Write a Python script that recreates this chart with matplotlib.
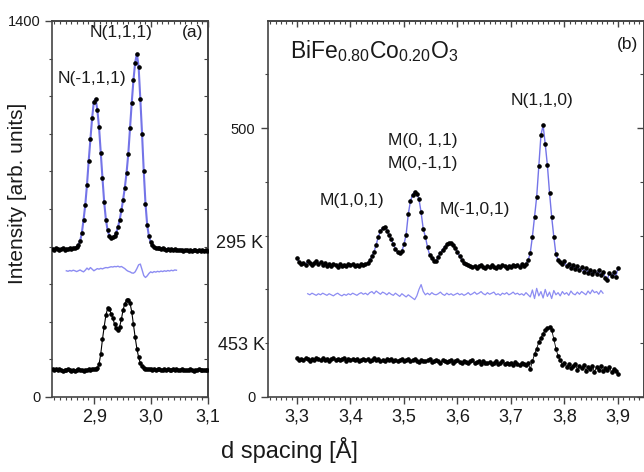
import numpy as np
import matplotlib
matplotlib.use("Agg")
import matplotlib.pyplot as plt
from matplotlib.ticker import MultipleLocator

plt.rcParams['font.family'] = ['Liberation Sans', 'DejaVu Sans']
plt.rcParams['mathtext.default'] = 'regular'

# ---- panel (a): N(-1,1,1) / N(1,1,1) region, d grid 2.827 .. 3.099 A
d_left = np.linspace(2.827, 3.099, 91)

i295_left = [552, 548, 553, 550, 547, 551, 554, 549, 552, 550, 553, 551, 554, 556,
             558, 565, 580, 610, 660, 715, 790, 880, 960, 1040,
             1100, 1110, 1070, 1005, 910, 815, 725, 660, 620, 600,
             592, 594, 600, 612, 632, 660, 695, 735, 780, 835,
             905, 1000, 1095, 1180, 1245, 1278, 1230, 1110, 980, 840,
             720, 640, 598, 577, 565, 559, 556, 555,
             553, 551, 554, 550, 548, 552, 549, 551, 547, 550,
             548, 546, 549, 547, 545, 548, 546, 544, 547, 545,
             548, 546, 544, 547, 545, 546, 544, 546, 545]

i453_left = [106, 101, 104, 99, 103, 100, 97, 102, 99, 104, 100, 98, 101, 97, 100,
             103, 99, 101, 98, 102, 100, 104, 101, 103, 106, 105,
             108, 122, 160, 215, 262, 305, 330, 328, 310, 293, 272, 257, 250, 262,
             290, 325, 348, 360, 362, 350, 318, 270, 222, 180, 148, 126, 114, 109,
             106, 104, 103, 105, 102, 104, 101, 103, 105, 102, 100, 103, 101, 104,
             102, 99, 103, 101, 104, 100, 102, 105, 101, 99, 102, 100, 103, 101,
             98, 102, 100, 103, 99, 101, 100, 102, 99]

# difference curve (obs - calc, shifted), on d_left[8:73]
diff_left = [470, 468, 471, 469, 472, 470, 467, 470, 473, 469,
             466, 472, 480, 474, 482, 476, 470, 474, 478, 476,
             479, 477, 480, 482, 481, 483, 485, 484, 486, 485,
             487, 484, 486, 482, 478, 472, 468, 466, 462, 461,
             466, 478, 492, 495, 474, 452, 445, 451, 460, 466,
             463, 467, 465, 468, 466, 469, 467, 470, 468, 471,
             469, 472, 470, 473, 472]

# ---- panel (b): magnetic M/N peaks, d grid 3.300 .. 3.900 A
d_right = np.linspace(3.300, 3.900, 151)

i295_right = [258, 251, 247, 250, 246, 252, 249, 245, 250, 253,
              248, 251, 246, 249, 244, 247, 243, 248, 245, 242,
              247, 244, 246, 243, 248, 245, 247, 243, 246, 244,
              248, 245, 247, 249, 254, 262, 270, 283, 298, 308,
              315, 316, 309, 301, 293, 284, 276, 269, 267, 271,
              284, 302, 340, 364, 376, 382, 378, 368, 343, 312,
              298, 278, 264, 258, 252, 253, 261, 267, 274, 279,
              284, 287, 286, 283, 277, 269, 262, 255, 250, 247,
              245, 243, 241, 244, 240, 243, 246, 242, 239, 244,
              241, 245, 242, 240, 244, 241, 245, 243, 240, 244,
              242, 246, 243, 245, 242, 247, 244, 248, 254, 268,
              298, 335, 372, 430, 487, 505, 470, 431, 380, 335,
              298, 265, 255, 251, 248, 252, 243, 247, 240, 245,
              238, 243, 236, 241, 233, 239, 231, 237, 229, 235,
              228, 236, 226, 233, 222, 218, 231, 225, 232, 224,
              240]

i453_right = [72, 68, 71, 69, 73, 70, 67, 71, 69, 72,
              70, 68, 72, 69, 71, 67, 70, 73, 69, 71,
              68, 70, 72, 67, 70, 69, 71, 68, 70, 66,
              69, 71, 68, 70, 67, 69, 72, 68, 70, 67,
              69, 66, 70, 68, 71, 67, 69, 66, 68, 70,
              67, 69, 71, 66, 68, 70, 67, 65, 69, 67,
              66, 68, 70, 65, 67, 69, 66, 64, 68, 66,
              65, 67, 69, 64, 66, 68, 65, 63, 67, 65,
              64, 66, 68, 63, 65, 67, 62, 66, 64, 63,
              65, 62, 64, 67, 61, 63, 66, 62, 64, 61,
              63, 60, 65, 62, 60, 64, 61, 59, 63, 52,
              66, 80, 90, 102, 110, 118, 124, 128, 130, 125,
              108, 90, 76, 68, 60, 64, 56, 61, 53, 58,
              62, 51, 57, 54, 60, 49, 56, 52, 58, 47,
              55, 51, 57, 48, 53, 50, 55, 46, 52, 49,
              42]

# difference curve on d_right[5:144]
diff_right = [192, 190, 193, 191, 189, 192, 190, 193, 191, 189,
              192, 190, 188, 191, 193, 190, 188, 191, 189, 192,
              190, 193, 191, 189, 192, 194, 191, 193, 190, 194,
              196, 192, 197, 194, 191, 195, 193, 190, 194, 191,
              189, 193, 190, 187, 192, 189, 186, 190, 187, 184,
              181, 188, 200, 209, 196, 190, 193, 190, 194, 191,
              190, 192, 195, 191, 189, 193, 190, 192, 189, 191,
              193, 190, 192, 189, 191, 194, 190, 192, 195, 191,
              193, 196, 192, 190, 194, 191, 193, 195, 190, 192,
              189, 193, 191, 194, 190, 192, 195, 191, 193, 190,
              192, 189, 194, 190, 186, 199, 183, 202, 188, 196,
              184, 200, 187, 195, 183, 198, 190, 194, 188, 196,
              191, 194, 189, 197, 192, 190, 195, 191, 196, 193,
              190, 197, 192, 199, 194, 196, 191, 198, 193]

W, H = 644, 472
TXT = '#1a1a1a'
SPINE = '#444444'
FIT = '#7474e8'
DIFF = '#8c8cf2'
MS = 2.3


def px(x, y):
    return x / W, 1 - y / H


def style_axes(ax, xminor, yminor):
    for s in ax.spines.values():
        s.set_color(SPINE)
        s.set_linewidth(1.2)
    ax.xaxis.set_minor_locator(MultipleLocator(xminor))
    ax.yaxis.set_minor_locator(MultipleLocator(yminor))
    ax.tick_params(which='major', direction='out', length=5, width=1, color=SPINE)
    ax.tick_params(which='minor', direction='out', length=2.5, width=0.8, color=SPINE)
    ax.tick_params(axis='x', labelsize=13, labelcolor=TXT, pad=3)
    ax.tick_params(axis='y', labelsize=10.5, labelcolor=TXT, pad=3)

    top = ax.secondary_xaxis('top')
    top.set_xticks(ax.get_xticks())
    top.xaxis.set_minor_locator(MultipleLocator(xminor))
    top.tick_params(which='both', direction='in', labeltop=False, color=SPINE)
    top.tick_params(which='major', length=4, width=1)
    top.tick_params(which='minor', length=2.5, width=0.8)
    top.spines['top'].set_color(SPINE)
    top.spines['top'].set_linewidth(1.2)

    right = ax.secondary_yaxis('right')
    right.set_yticks(ax.get_yticks())
    right.yaxis.set_minor_locator(MultipleLocator(yminor))
    right.tick_params(which='both', direction='in', labelright=False, color=SPINE)
    right.tick_params(which='major', length=5, width=1)
    right.tick_params(which='minor', length=3, width=0.8)
    right.spines['right'].set_color(SPINE)
    right.spines['right'].set_linewidth(1.2)


fig = plt.figure(figsize=(W / 100, H / 100), dpi=100)

# panel (a)
ax1 = fig.add_axes([52 / W, 75 / H, 156 / W, 376 / H])
ax1.plot(d_left, i295_left, color=FIT, lw=1.5, zorder=2)
ax1.plot(d_left, i295_left, 'o', ms=MS, color='k', zorder=3)
ax1.plot(d_left[8:73], diff_left, color=DIFF, lw=1.0, zorder=2)
ax1.plot(d_left, i453_left, color='k', lw=0.8, zorder=2)
ax1.plot(d_left, i453_left, 'o', ms=MS, color='k', zorder=3)
ax1.set_xlim(2.826, 3.100)
ax1.set_ylim(0, 1400)
ax1.set_xticks([2.9, 3.0, 3.1])
ax1.set_xticklabels(['2,9', '3,0', '3,1'])
ax1.set_yticks([0, 1400])
ax1.set_yticklabels(['0', '1400'])
style_axes(ax1, 0.01, 140)

# panel (b)
ax2 = fig.add_axes([268 / W, 75 / H, 376 / W, 376 / H])
ax2.plot(d_right, i295_right, color=FIT, lw=1.0, zorder=2)
ax2.plot(d_right, i295_right, 'o', ms=MS, color='k', zorder=3)
ax2.plot(d_right[5:144], diff_right, color=DIFF, lw=0.9, zorder=2)
ax2.plot(d_right, i453_right, color='k', lw=0.6, zorder=2)
ax2.plot(d_right, i453_right, 'o', ms=MS, color='k', zorder=3)
ax2.set_xlim(3.2458, 3.9486)
ax2.set_ylim(0, 699)
ax2.set_xticks([3.3, 3.4, 3.5, 3.6, 3.7, 3.8, 3.9])
ax2.set_xticklabels(['3,3', '3,4', '3,5', '3,6', '3,7', '3,8', '3,9'])
ax2.set_yticks([0, 500])
ax2.set_yticklabels(['0', '500'])
style_axes(ax2, 0.01, 100)
ax2.tick_params(axis='y', pad=4)

# annotations
fs = 12.5
fig.text(*px(121, 33), 'N(1,1,1)', ha='center', va='center', fontsize=fs, color=TXT)
fig.text(*px(193, 33), '(a)', ha='center', va='center', fontsize=fs, color=TXT)
fig.text(*px(92, 78), 'N(-1,1,1)', ha='center', va='center', fontsize=fs, color=TXT)
fig.text(*px(290, 58), r'BiFe$_{0.80}$Co$_{0.20}$O$_3$', ha='left', va='baseline',
         fontsize=16.5, color=TXT)
fig.text(*px(628, 45), '(b)', ha='center', va='center', fontsize=fs, color=TXT)
fig.text(*px(542, 100), 'N(1,1,0)', ha='center', va='center', fontsize=fs, color=TXT)
fig.text(*px(423, 140), 'M(0, 1,1)', ha='center', va='center', fontsize=fs, color=TXT)
fig.text(*px(423, 163), 'M(0,-1,1)', ha='center', va='center', fontsize=fs, color=TXT)
fig.text(*px(352, 200), 'M(1,0,1)', ha='center', va='center', fontsize=fs, color=TXT)
fig.text(*px(475, 210), 'M(-1,0,1)', ha='center', va='center', fontsize=fs, color=TXT)
fig.text(*px(263, 244), '295 K', ha='right', va='center', fontsize=13, color=TXT)
fig.text(*px(265, 345), '453 K', ha='right', va='center', fontsize=13, color=TXT)

fig.text(*px(289, 450), 'd spacing [Å]', ha='center', va='center', fontsize=17, color=TXT)
fig.text(*px(18, 193), 'Intensity [arb. units]', ha='center', va='center',
         rotation=90, fontsize=15, color=TXT)

fig.savefig('out.png', dpi=100)
